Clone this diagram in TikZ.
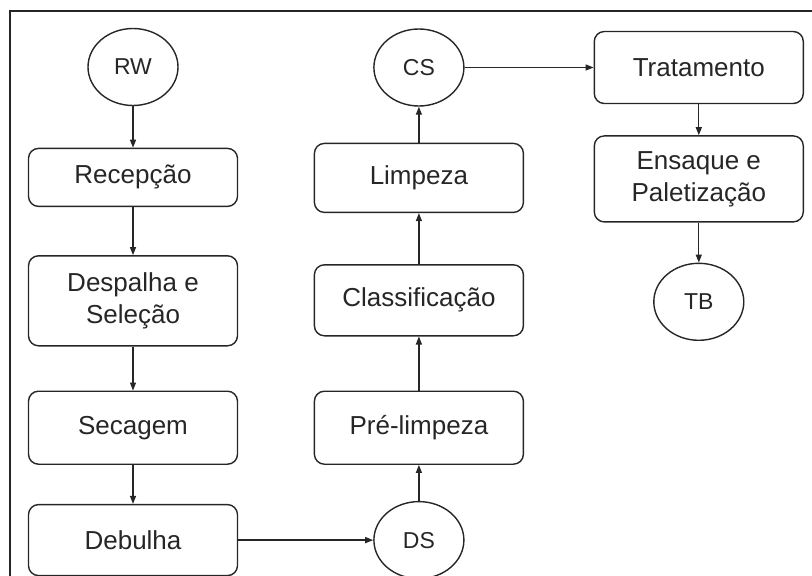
\documentclass[tikz,border=0pt]{standalone}
\usepackage{fontspec}
\setmainfont{Liberation Sans}
\usetikzlibrary{arrows.meta,positioning,shapes.geometric}

\begin{document}
\begin{tikzpicture}[
    x=1pt, y=-1pt,
    stepbase/.style={draw=black!85, line width=1.4pt, rounded corners=10pt,
        minimum width=209pt, minimum height=72pt, inner sep=0pt, align=center,
        text=black!85, font=\fontsize{26}{32}\selectfont},
    term/.style={ellipse, draw=black!85, line width=1.4pt,
        minimum width=90pt, minimum height=77pt, inner sep=0pt,
        text=black!85, font=\fontsize{23}{28}\selectfont},
    arrow/.style={-{Triangle[length=8pt,width=6pt]}, line width=1.3pt, draw=black!85},
]
\useasboundingbox (0,0) rectangle (812,576);
\clip (0,0) rectangle (812,576);
\draw[line width=2pt, black!85] (10,11) rectangle (830,600);

\node[term] (rw) at (133,67) {RW};
\node[stepbase, below=41.5pt of rw, minimum height=58pt]   (rec)  {Recepção};
\node[stepbase, below=48pt of rec, minimum height=90pt]    (desp) {Despalha e\\Seleção};
\node[stepbase, below=44pt of desp, minimum height=73pt]   (sec)  {Secagem};
\node[stepbase, below=39pt of sec, minimum height=71pt]    (deb)  {Debulha};
\node[term, right=135pt of deb]                            (ds)   {DS};
\node[stepbase, above=36pt of ds, minimum height=73pt]     (pre)  {Pré-limpeza};
\node[stepbase, above=54pt of pre, minimum height=71pt]    (cla)  {Classificação};
\node[stepbase, above=51pt of cla, minimum height=69pt]    (lim)  {Limpeza};
\node[term, above=36pt of lim]                             (cs)   {CS};
\node[stepbase, right=129pt of cs]                         (trat) {Tratamento};
\node[stepbase, below=31pt of trat, minimum height=86pt]   (ens)  {Ensaque e\\Paletização};
\node[term, below=40pt of ens]                             (tb)   {TB};

\draw[arrow] (rw)   -- (rec);
\draw[arrow] (rec)  -- (desp);
\draw[arrow] (desp) -- (sec);
\draw[arrow] (sec)  -- (deb);
\draw[arrow] (deb)  -- (ds);
\draw[arrow] (ds)   -- (pre);
\draw[arrow] (pre)  -- (cla);
\draw[arrow] (cla)  -- (lim);
\draw[arrow] (lim)  -- (cs);
\draw[arrow] (cs)   -- (trat);
\draw[arrow] (trat) -- (ens);
\draw[arrow] (ens)  -- (tb);
\end{tikzpicture}
\end{document}
